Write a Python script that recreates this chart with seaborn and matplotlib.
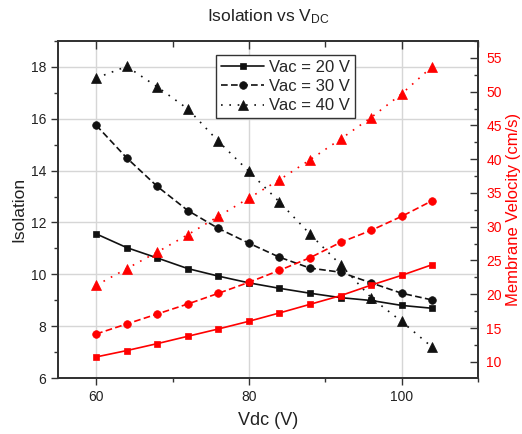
import matplotlib
matplotlib.use('Agg')
import matplotlib.pyplot as plt
import seaborn as sns
from matplotlib.ticker import MultipleLocator

# ---- data ----
vdc = [60, 64, 68, 72, 76, 80, 84, 88, 92, 96, 100, 104]
iso20 = [11.56, 11.03, 10.63, 10.22, 9.93, 9.67, 9.46, 9.27, 9.10, 8.99, 8.80, 8.69]
iso30 = [15.75, 14.49, 13.39, 12.46, 11.77, 11.20, 10.66, 10.24, 10.08, 9.67, 9.27, 9.01]
iso40 = [17.57, 18.02, 17.23, 16.38, 15.13, 13.97, 12.79, 11.55, 10.37, 9.10, 8.18, 7.19]
vel20 = [10.72, 11.66, 12.69, 13.78, 14.86, 16.00, 17.23, 18.51, 19.79, 21.35, 22.80, 24.38]
vel30 = [14.12, 15.60, 17.08, 18.56, 20.14, 21.77, 23.54, 25.41, 27.68, 29.46, 31.53, 33.85]
vel40 = [21.32, 23.79, 26.25, 28.82, 31.53, 34.24, 36.95, 39.91, 42.97, 46.17, 49.67, 53.72]
labels = ['Vac = 20 V', 'Vac = 30 V', 'Vac = 40 V']
left_ticks = [6, 8, 10, 12, 14, 16, 18]
right_ticks = [10, 15, 20, 25, 30, 35, 40, 45, 50, 55]
x_ticks = [60, 80, 100]

sns.set_style('ticks')
plt.rcParams['font.family'] = ['Liberation Sans', 'DejaVu Sans']
plt.rcParams['mathtext.fontset'] = 'custom'
plt.rcParams['mathtext.rm'] = 'Liberation Sans'
plt.rcParams['mathtext.it'] = 'Liberation Sans:italic'

fig = plt.figure(figsize=(5.22, 4.34), dpi=100)
ax1 = fig.add_axes([58 / 522, 1 - 378 / 434, 420 / 522, 337 / 434])
ax2 = ax1.twinx()

styles = [('-', 's', 5), ((0, (4, 2)), 'o', 5.5), ((0, (1, 4)), '^', 6.5)]
blk = '#111111'
red = '#ff0000'

for ys, (ls, mk, ms), lab in zip([iso20, iso30, iso40], styles, labels):
    sns.lineplot(x=vdc, y=ys, ax=ax1, color=blk, marker=mk, markersize=ms,
                 linestyle=ls, linewidth=1.2, markeredgecolor=blk,
                 markeredgewidth=0.5, label=lab)
for ys, (ls, mk, ms) in zip([vel20, vel30, vel40], styles):
    sns.lineplot(x=vdc, y=ys, ax=ax2, color=red, marker=mk, markersize=ms,
                 linestyle=ls, linewidth=1.2, markeredgecolor=red,
                 markeredgewidth=0.5)
if ax1.get_legend() is not None:
    ax1.get_legend().remove()

# axes limits and ticks
ax1.set_xlim(55, 110)
ax1.set_ylim(6, 19)
ax2.set_ylim(7.6, 57.5)
ax1.set_xticks(x_ticks)
ax1.xaxis.set_minor_locator(MultipleLocator(10))
ax1.set_yticks(left_ticks)
ax1.yaxis.set_minor_locator(MultipleLocator(1))
ax2.set_yticks(right_ticks)
ax2.yaxis.set_minor_locator(MultipleLocator(2.5))

spc = '#333333'
ax1.tick_params(axis='both', which='major', direction='out', length=5,
                width=1, color=spc, labelsize=10, labelcolor='#222222')
ax1.tick_params(axis='both', which='minor', direction='out', length=3,
                width=1, color=spc)
ax2.tick_params(axis='y', which='major', direction='in', length=6,
                width=1, color=spc, labelsize=10, labelcolor=red, pad=6)
ax2.tick_params(axis='y', which='minor', direction='in', length=3,
                width=1, color=spc)

# top ticks (inward) via the twin's shared x axis
ax2.xaxis.set_visible(True)
ax2.tick_params(axis='x', which='both', bottom=False, top=True,
                labelbottom=False, labeltop=False, direction='in',
                color=spc, width=1)
ax2.tick_params(axis='x', which='major', length=6)
ax2.tick_params(axis='x', which='minor', length=4)

for a in (ax1, ax2):
    for s in a.spines.values():
        s.set_color(spc)
        s.set_linewidth(1.3)

ax1.grid(True, which='major', color='#d6d6d6', linewidth=1)
ax1.set_axisbelow(True)

ax1.set_xlabel('Vdc (V)', fontsize=13, color='#222222', labelpad=6)
ax1.set_ylabel('Isolation', fontsize=12.5, color='#222222', labelpad=3)
ax2.set_ylabel('Membrane Velocity (cm/s)', fontsize=12, color=red, labelpad=3)
ax1.set_title('Isolation vs V$_{\\mathrm{DC}}$', fontsize=12.5, pad=14,
              color='#222222')

leg = ax2.legend(handles=ax1.lines[:3], labels=labels, loc='upper left',
                 bbox_to_anchor=(0.376, 0.958), fontsize=12, frameon=True,
                 fancybox=False, framealpha=1, edgecolor=spc,
                 handlelength=2.6, borderpad=0.3, labelspacing=0.25,
                 handletextpad=0.3, borderaxespad=0)
leg.get_frame().set_linewidth(1.0)

fig.savefig('out.png', dpi=100)
